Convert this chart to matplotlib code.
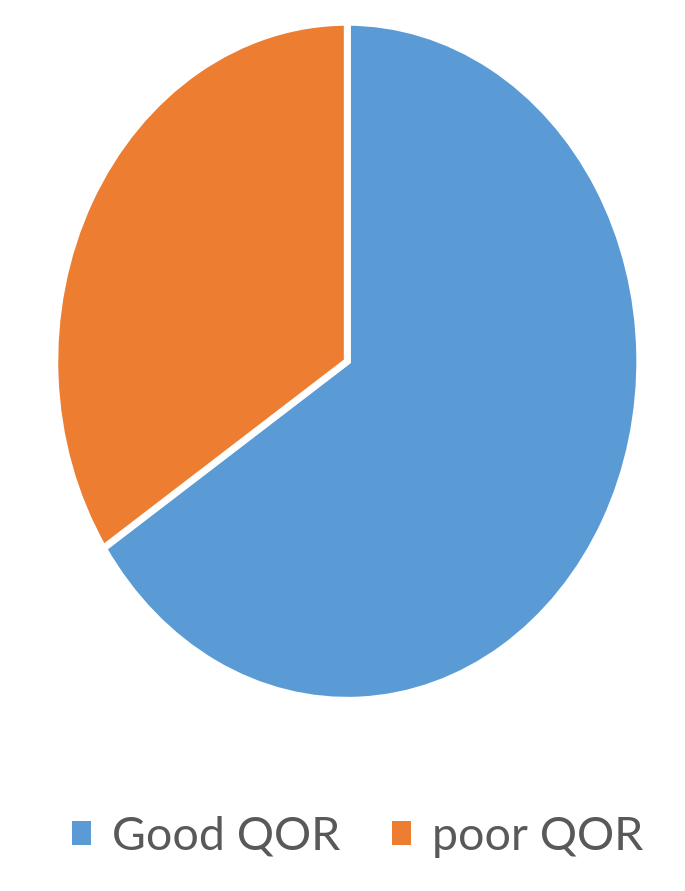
import matplotlib.pyplot as plt
from matplotlib.patches import Patch

labels = ['Good QOR', 'poor QOR']
values = [65.7, 34.3]
colors = ['#5B9BD5', '#ED7D31']

fig = plt.figure(figsize=(6.85, 8.91), dpi=100)
ax = fig.add_axes([0.080, 0.214, 0.854, 0.761])
ax.pie(values, colors=colors, startangle=90, counterclock=False, radius=1.0,
       wedgeprops=dict(edgecolor='white', linewidth=5))
ax.set_aspect('auto')
ax.set_xlim(-1.0, 1.0)
ax.set_ylim(-1.0, 1.0)
ax.axis('off')

handles = [Patch(facecolor=c, edgecolor='none') for c in colors]
fig.legend(handles, labels, loc='center', bbox_to_anchor=(0.522, 0.061), ncol=2,
           frameon=False, handlelength=0.4, handleheight=0.4,
           handletextpad=0.45, columnspacing=1.13,
           prop={'family': ['Lato', 'DejaVu Sans'], 'size': 33.5},
           labelcolor='#595959')

fig.savefig('out.png', dpi=100)
